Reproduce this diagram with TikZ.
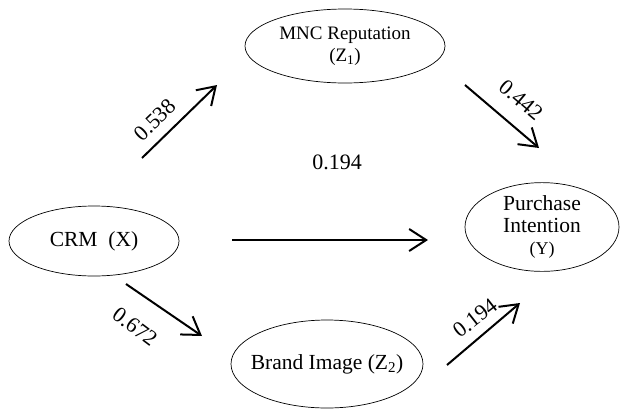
\documentclass[tikz,border=0pt]{standalone}
\usepackage{fontspec}
\setmainfont{Liberation Serif}
\usetikzlibrary{shapes.geometric,arrows.meta}

\begin{document}
\begin{tikzpicture}[x=1pt,y=-1pt,
  var/.style={draw,ellipse,line width=0.7pt,inner sep=0pt,align=center,font=\fontsize{19}{22}\selectfont},
  big/.style={font=\fontsize{21.5}{22}\selectfont},
  path/.style={line width=2pt,-{Straight Barb[length=17pt,width=22pt,line width=2pt]}},
  coef/.style={font=\fontsize{22}{24}\selectfont}]
\useasboundingbox (0,0) rectangle (621,410);
   % latent variables
   \node[var,minimum width=200pt,minimum height=74pt] (rep) at (345,46) {MNC Reputation\\(Z\textsubscript{1})};
   \node[var,big,minimum width=170pt,minimum height=70pt] (crm) at (94,241) {CRM\ \ (X)};
   \node[var,big,minimum width=154pt,minimum height=82pt] (pi) at (542,227) {Purchase\\Intention\\{\fontsize{18}{20}\selectfont(Y)}};
   \node[var,big,inner xsep=-12pt,minimum width=192pt,minimum height=88pt] (img) at (327,364) {Brand Image (Z\textsubscript{2})};
   % arrow ends
   \coordinate (a1) at (142,158); \coordinate (a2) at (217,85);
   \coordinate (b1) at (465,85);  \coordinate (b2) at (539,148);
   \coordinate (c1) at (232,240); \coordinate (c2) at (428,240);
   \coordinate (d1) at (126,284); \coordinate (d2) at (202,336);
   \coordinate (e1) at (447,365); \coordinate (e2) at (520,303);
   \draw[path] (a1) -- (a2);
   \draw[path] (b1) -- (b2);
   \draw[path] (c1) -- (c2);
   \draw[path] (d1) -- (d2);
   \draw[path] (e1) -- (e2);
   % coefficients
   \node[coef,rotate=44] (ka) at (155,120) {0.538};
   \node[coef,rotate=-40] (kb) at (521,100) {0.442};
   \node[coef] (kc) at (337,162) {0.194};
   \node[coef,rotate=-37] (kd) at (135,327) {0.672};
   \node[coef,rotate=38] (ke) at (475,318) {0.194};
\end{tikzpicture}
\end{document}
